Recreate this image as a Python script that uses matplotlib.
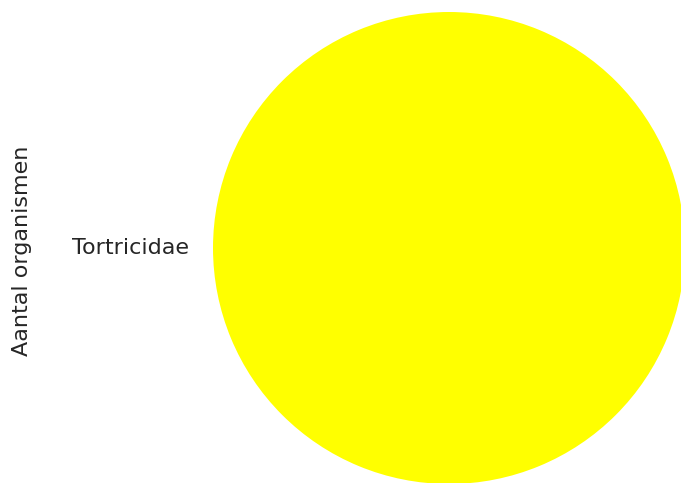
import matplotlib
matplotlib.use("Agg")
import matplotlib.pyplot as plt

labels = ["Tortricidae"]
counts = [1]
colors = ["#ffff00"]

W, H = 681, 483
fig = plt.figure(figsize=(W / 100, H / 100), dpi=100)

# circle: centre (449, 248) px, radius ~236 px
r = 236
cx, cy = 449, 248
ax = fig.add_axes([(cx - r) / W, (H - cy - r) / H, 2 * r / W, 2 * r / H])
ax.pie(counts, labels=labels, colors=colors,
       textprops={"fontsize": 16, "color": "#262626"})
ax.set_xlim(-1, 1)
ax.set_ylim(-1, 1)
ax.set_aspect("equal")
for s in ax.spines.values():
    s.set_visible(False)
ax.set_xticks([])
ax.set_yticks([])
ax.set_ylabel("Aantal organismen", fontsize=16, color="#262626")
# label anchor is its right edge (x ~ 32 px)
ax.yaxis.set_label_coords((32 - (cx - r)) / (2 * r), 0.5 + (cy - 251) / (2 * r))

fig.savefig("out.png", dpi=100)
